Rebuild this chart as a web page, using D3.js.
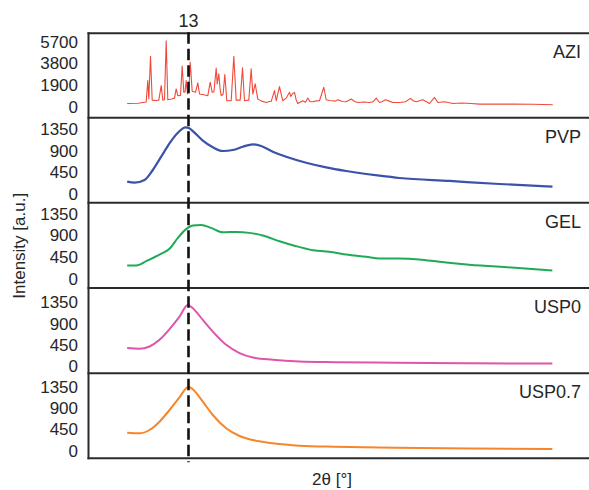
<!DOCTYPE html>
<html>
<head>
<meta charset="utf-8">
<script src="https://cdn.jsdelivr.net/npm/d3@7"></script>
<style>
  html, body { margin: 0; padding: 0; background: #fff; }
  svg { display: block; font-family: "Liberation Sans", Arial, sans-serif; }
</style>
</head>
<body>
<svg id="chart" width="589" height="490"></svg>
<script>
// ---------------- DATA ----------------
const panelNames = ["AZI", "PVP", "GEL", "USP0", "USP0.7"];
const xDomain = [0, 65];           // 2θ [°]
const markerAngle = 13;            // dashed reference line
const aziTicks = [0, 1900, 3800, 5700];
const polymerTicks = [0, 450, 900, 1350];
const aziDomain = [-1000, 6420];
const pvpDomain = [-186, 1590];
const gelDomain = [-190, 1585];
const usp0Domain = [-150, 1657];
const usp07Domain = [-158, 1632];

const aziData = [
  [5.03,294],[6.5,320],[7.06,383],[7.5,420],[7.71,2300],[7.84,700],[8.06,4420],[8.28,590],[8.7,560],[9.14,589],
  [9.45,1856],[9.66,589],[9.88,620],[10.1,5775],[10.31,620],[10.8,680],[11.18,760],[11.4,1562],[11.61,972],[11.96,1000],
  [12.18,3565],[12.39,1267],[12.55,1300],[12.7,2298],[12.87,1120],[13.05,1400],[13.22,3919],[13.48,1355],[13.91,1267],[14.21,2092],
  [14.43,1120],[15.0,1060],[15.51,972],[15.82,2151],[16.08,1267],[16.3,1300],[16.6,3389],[16.73,2004],[16.94,2888],[17.1,1600],
  [17.25,972],[17.5,1100],[17.72,2829],[17.98,530],[18.55,530],[18.89,4420],[19.2,589],[19.72,589],[20.02,3418],[20.28,530],
  [20.84,589],[21.15,3330],[21.36,1120],[21.67,2004],[22.01,678],[22.5,500],[23.1,383],[23.5,470],[23.75,471],[24.18,1414],
  [24.4,530],[24.83,1768],[25.26,530],[25.7,766],[26.13,1267],[26.3,900],[26.48,1120],[26.78,1267],[27.0,600],[27.21,294],
  [27.86,530],[28.2,400],[28.51,766],[28.8,450],[29.16,442],[29.6,520],[30.03,530],[30.59,1709],[30.9,619],[31.3,560],
  [31.76,530],[32.1,500],[32.41,619],[33.0,470],[33.5,442],[34.15,678],[34.6,470],[35.01,383],[35.8,420],[36.53,383],
  [37.0,450],[37.4,766],[37.83,383],[38.2,470],[38.61,619],[39.1,500],[39.56,383],[40.43,383],[41.2,450],[41.86,737],
  [42.2,530],[42.6,442],[43.46,619],[44.33,294],[44.98,825],[45.41,383],[46.28,442],[47.36,294],[48.45,330],[49.75,294],
  [50.83,236],[53,236],[55.16,236],[57.76,220],[60.36,177]
];
const pvpData = [
  [5.03,253],[5.98,232],[7.28,288],[8.36,497],[9.45,775],[10.53,1055],[11.62,1277],[12.61,1389],[13.05,1375],[13.78,1277],
  [14.86,1110],[16.16,972],[17.46,894],[18.76,915],[20.06,984],[21.36,1034],[22.45,999],[23.96,880],[25.7,775],[28.3,650],
  [30.89,553],[33.5,477],[36.1,414],[37.83,378],[40.43,330],[46.93,268],[53.43,205],[60.32,150]
];
const gelData = [
  [5.03,275],[6.2,275],[7.5,364],[9.23,503],[10.53,622],[11.62,851],[12.61,1023],[13.56,1107],[14.65,1121],[15.95,1059],
  [17.46,967],[19.2,975],[20.93,955],[22.66,899],[24.83,780],[27,676],[29.16,593],[31.76,551],[33.5,503],[36.1,455],
  [37.83,420],[40.4,420],[43,400],[45.6,350],[49.5,290],[55,230],[60.3,170]
];
const usp0Data = [
  [5.03,379],[6.63,365],[7.93,413],[9.23,555],[10.53,782],[11.83,1049],[12.91,1297],[13.56,1227],[14.86,979],[16.16,731],
  [17.9,449],[19.63,273],[21.36,180],[23.96,131],[27.43,95],[32,80],[40,68],[50,58],[60.3,50]
];
const usp07Data = [
  [5.03,381],[6.63,368],[7.93,438],[9.23,613],[10.53,859],[11.83,1127],[13.0,1350],[13.56,1295],[14.86,1034],[16.16,754],
  [17.9,474],[19.63,312],[21.36,227],[23.96,158],[27.43,107],[32,85],[40,65],[50,50],[60.3,40]
];

// ---------------- LAYOUT / STYLE ----------------
const W = 589, H = 490;
const left = 88.5, right = 589;
const panelTops = [33.3, 117.7, 202.7, 288, 373.3];
const panelH = 85;
const textColor = "#262626";
const series = [
  { name: panelNames[0], data: aziData,  domain: aziDomain,  ticks: aziTicks,     color: "#ef4a3a", width: 1.1, curve: d3.curveLinear },
  { name: panelNames[1], data: pvpData,  domain: pvpDomain,  ticks: polymerTicks, color: "#3a52a8", width: 2.2, curve: d3.curveMonotoneX },
  { name: panelNames[2], data: gelData,  domain: gelDomain,  ticks: polymerTicks, color: "#1fab55", width: 2.0, curve: d3.curveMonotoneX },
  { name: panelNames[3], data: usp0Data, domain: usp0Domain, ticks: polymerTicks, color: "#dd55ac", width: 2.0, curve: d3.curveMonotoneX },
  { name: panelNames[4], data: usp07Data,domain: usp07Domain,ticks: polymerTicks, color: "#f7862a", width: 2.0, curve: d3.curveMonotoneX }
];

const svg = d3.select("#chart");
const x = d3.scaleLinear().domain(xDomain).range([left, left + 500]);

series.forEach((s, i) => {
  const top = panelTops[i], bottom = top + panelH;
  const y = d3.scaleLinear().domain(s.domain).range([bottom, top]);
  const g = svg.append("g");

  const line = d3.line().x(d => x(d[0])).y(d => y(d[1])).curve(s.curve);
  g.append("path").datum(s.data)
    .attr("fill", "none")
    .attr("stroke", s.color)
    .attr("stroke-width", s.width)
    .attr("stroke-linejoin", "round")
    .attr("d", line);

  const axis = d3.axisLeft(y).tickValues(s.ticks).tickSize(0).tickPadding(10.5).tickFormat(d3.format("d"));
  const ag = g.append("g").attr("transform", `translate(${left},0)`).call(axis);
  ag.select(".domain").remove();
  ag.selectAll("text").attr("font-size", 17).attr("fill", textColor)
    .attr("font-family", "'Liberation Sans', Arial, sans-serif");

  g.append("text")
    .attr("x", 581).attr("y", top + 25)
    .attr("text-anchor", "end")
    .attr("font-size", 18).attr("fill", textColor)
    .text(s.name);
});

// frame lines
const frame = svg.append("g").attr("stroke", "#2b2b2b").attr("stroke-width", 2);
panelTops.concat([panelTops[4] + panelH]).forEach(t => {
  frame.append("line").attr("x1", left - 1).attr("x2", right).attr("y1", t).attr("y2", t);
});
frame.append("line").attr("x1", left).attr("x2", left).attr("y1", panelTops[0] - 1).attr("y2", panelTops[4] + panelH + 1);

// dashed reference line
svg.append("line")
  .attr("x1", x(markerAngle)).attr("x2", x(markerAngle))
  .attr("y1", panelTops[0] - 1).attr("y2", panelTops[4] + panelH + 4)
  .attr("stroke", "#111").attr("stroke-width", 2.6)
  .attr("stroke-dasharray", "11.5,5");

svg.append("text")
  .attr("x", x(markerAngle)).attr("y", 27)
  .attr("text-anchor", "middle").attr("font-size", 18).attr("fill", textColor)
  .text(String(markerAngle));

// axis titles
svg.append("text")
  .attr("transform", `translate(25,${(panelTops[0] + panelTops[4] + panelH) / 2}) rotate(-90)`)
  .attr("text-anchor", "middle").attr("font-size", 17).attr("fill", textColor)
  .text("Intensity [a.u.]");

svg.append("text")
  .attr("x", 332).attr("y", 485)
  .attr("text-anchor", "middle").attr("font-size", 17).attr("fill", textColor)
  .text("2θ [°]");
</script>
</body>
</html>
